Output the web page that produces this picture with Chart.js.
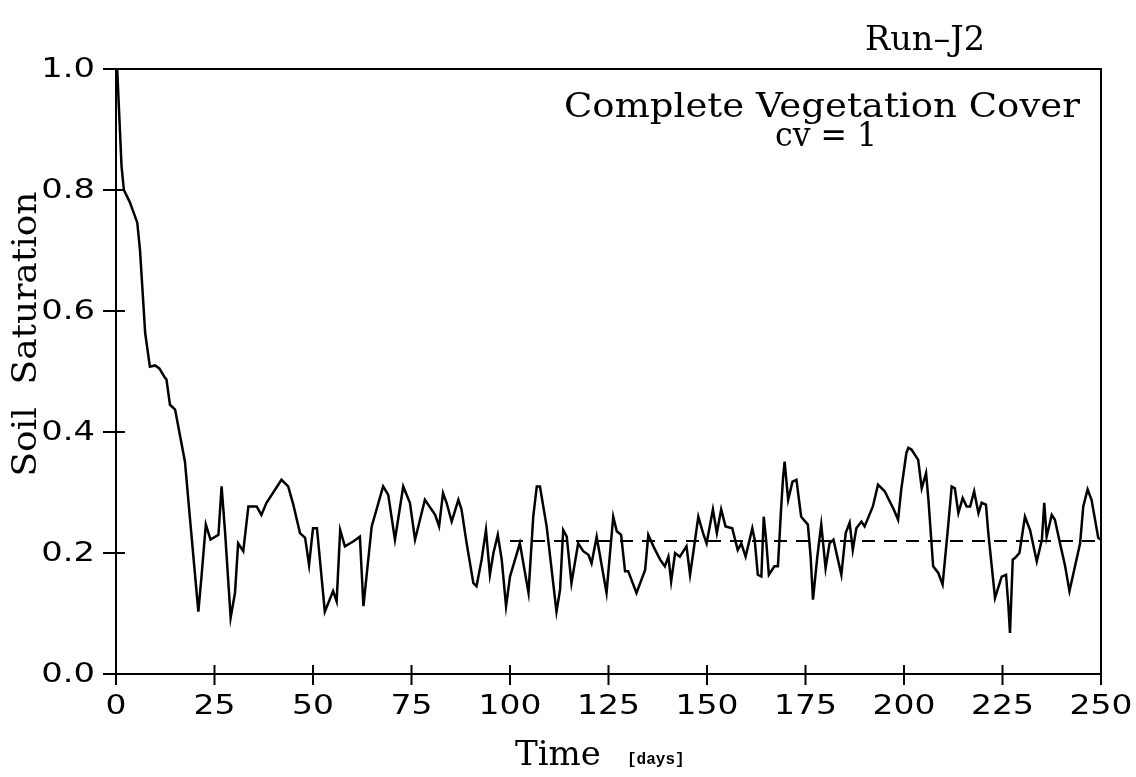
<!DOCTYPE html>
<html>
<head>
<meta charset="utf-8">
<script src="https://cdn.jsdelivr.net/npm/chart.js@4.4.0/dist/chart.umd.min.js"></script>
<style>
  html, body { margin: 0; padding: 0; background: #fff; }
  #wrap { width: 1136px; height: 777px; }
</style>
</head>
<body>
<div id="wrap"><canvas id="soilChart" width="1136" height="777"></canvas></div>
<script>
// Soil saturation time series (days, saturation)
const timeDays = [
  0, 0.3, 1.4, 2, 3.5, 5.4, 6.1, 7.4, 8.6, 9.9,
  11, 12.4, 12.8, 13.7, 15, 17.5, 18.8, 20.9, 21.7, 22.8,
  24, 26, 26.8, 27.7, 29.1, 30.2, 31, 32.3, 33.6, 35.7,
  36.9, 38.2, 42, 43.7, 45, 46.7, 48, 49, 50, 51,
  53, 55.1, 56, 56.9, 58.1, 60.2, 61.9, 62.8, 64.9, 67.8,
  69.1, 70.8, 72.9, 74.6, 75.9, 78.4, 81, 82, 83, 83.9,
  85.2, 86.9, 87.7, 89, 90.7, 91.5, 92.8, 93.9, 94.9, 95.8,
  96.9, 97.9, 99, 100, 102.5, 104.7, 105.9, 106.8, 107.6, 109.3,
  111.8, 112.7, 113.5, 114.4, 115.6, 117.3, 118.6, 119.9, 120.7, 122,
  124.5, 126.2, 127.1, 128.2, 129.2, 130, 132.1, 134.3, 135.1, 136.4,
  138.1, 139.3, 140.2, 140.9, 141.9, 143.1, 144.8, 145.7, 146.5, 147.8,
  149, 149.9, 151.5, 152.5, 153.6, 154.7, 156.4, 157.8, 158.7, 159.8,
  161.5, 162.1, 162.9, 163.8, 164.4, 165, 165.7, 167.1, 168, 168.8,
  169.3, 169.7, 170.6, 171.7, 172.7, 173.9, 175.6, 176.3, 176.9, 178,
  179, 180.1, 181.1, 182.1, 184.1, 185.2, 186.2, 187, 187.9, 189.2,
  190, 192.1, 193.4, 195.1, 197.4, 198.5, 199.3, 200.6, 201.1, 201.9,
  203.6, 204.5, 205.6, 206.2, 207.4, 208.7, 209.8, 211.2, 212.1, 212.9,
  213.8, 214.9, 215.9, 216.8, 217.8, 218.9, 219.7, 220.8, 221.4, 223.1,
  224.8, 225.9, 226.5, 226.9, 227.6, 228.2, 229.3, 230.7, 232, 233.7,
  235, 235.6, 236.2, 237.5, 238.3, 239.4, 240.9, 242, 243.4, 244.7,
  245.5, 246.6, 247.6, 249.3, 250
];
const soilSat = [
  1.0, 1.0, 0.84, 0.80, 0.78, 0.746, 0.70, 0.564, 0.508, 0.51,
  0.505, 0.49, 0.487, 0.445, 0.437, 0.351, 0.255, 0.103, 0.161, 0.247,
  0.222, 0.23, 0.31, 0.233, 0.093, 0.134, 0.216, 0.203, 0.277, 0.277,
  0.263, 0.283, 0.321, 0.31, 0.28, 0.233, 0.225, 0.18, 0.241, 0.241,
  0.103, 0.137, 0.12, 0.238, 0.211, 0.219, 0.227, 0.112, 0.244, 0.31,
  0.296, 0.222, 0.31, 0.283, 0.222, 0.288, 0.263, 0.244, 0.299, 0.283,
  0.252, 0.288, 0.272, 0.216, 0.15, 0.145, 0.189, 0.238, 0.164, 0.2,
  0.23, 0.189, 0.112, 0.161, 0.216, 0.134, 0.26, 0.31, 0.31, 0.244,
  0.103, 0.139, 0.238, 0.227, 0.15, 0.216, 0.203, 0.197, 0.183, 0.227,
  0.134, 0.26, 0.236, 0.23, 0.17, 0.17, 0.134, 0.172, 0.23, 0.211,
  0.189, 0.178, 0.194, 0.153, 0.2, 0.194, 0.211, 0.164, 0.2, 0.26,
  0.233, 0.216, 0.272, 0.233, 0.272, 0.244, 0.241, 0.205, 0.216, 0.194,
  0.241, 0.222, 0.164, 0.161, 0.26, 0.222, 0.164, 0.178, 0.178, 0.272,
  0.324, 0.351, 0.288, 0.318, 0.321, 0.26, 0.247, 0.194, 0.123, 0.194,
  0.247, 0.175, 0.216, 0.222, 0.164, 0.233, 0.25, 0.205, 0.241, 0.252,
  0.244, 0.277, 0.313, 0.302, 0.272, 0.255, 0.305, 0.365, 0.374, 0.371,
  0.354, 0.307, 0.332, 0.288, 0.178, 0.167, 0.148, 0.244, 0.31, 0.307,
  0.266, 0.291, 0.277, 0.277, 0.302, 0.266, 0.283, 0.28, 0.233, 0.126,
  0.161, 0.164, 0.112, 0.068, 0.189, 0.192, 0.2, 0.26, 0.238, 0.186,
  0.222, 0.283, 0.227, 0.263, 0.255, 0.222, 0.178, 0.137, 0.178, 0.216,
  0.277, 0.305, 0.288, 0.225, 0.222
];

// long-term mean (dashed), from day 100 to the end
const meanDays = [100, 250];
const meanSat = [0.22, 0.22];

// axis ticks
const xTicks = [0, 25, 50, 75, 100, 125, 150, 175, 200, 225, 250];
const yTicks = [0, 0.2, 0.4, 0.6, 0.8, 1.0];
const yTickLabels = ['0.0', '0.2', '0.4', '0.6', '0.8', '1.0'];

const runLabel = 'Run\u2013J2';
const noteLines = ['Complete Vegetation Cover', 'cv = 1'];

const SERIF = '"DejaVu Serif"';
const SANS = '"DejaVu Sans"';

// text with glyphs stretched sideways (wide plotter lettering)
function wideText(ctx, text, x, y, sx) {
    ctx.save();
    ctx.translate(x, y);
    ctx.scale(sx, 1);
    ctx.fillText(text, 0, 0);
    ctx.restore();
}

// same, stretched so that the text takes a given width
function fitText(ctx, text, x, y, width) {
    wideText(ctx, text, x, y, width / ctx.measureText(text).width);
}

// frame, crossing ticks, labels and annotations
const plotDecor = {
    id: 'plotDecor',
    afterDraw(chart) {
        const { ctx, chartArea: a } = chart;
        const xs = chart.scales.x, ys = chart.scales.y;
        ctx.save();
        ctx.strokeStyle = '#000';
        ctx.fillStyle = '#000';
        ctx.lineWidth = 2;

        // top and right sides of the box
        ctx.beginPath();
        ctx.moveTo(a.left, a.top);
        ctx.lineTo(a.right, a.top);
        ctx.lineTo(a.right, a.bottom);
        ctx.stroke();

        // tick marks cross the axes
        ctx.beginPath();
        yTicks.forEach(v => {
            const py = ys.getPixelForValue(v);
            ctx.moveTo(a.left - 13, py);
            ctx.lineTo(a.left + 9, py);
        });
        xTicks.forEach(v => {
            const px = xs.getPixelForValue(v);
            ctx.moveTo(px, a.bottom - 9);
            ctx.lineTo(px, a.bottom + 11);
        });
        ctx.stroke();

        // tick labels
        ctx.font = `27px ${SANS}`;
        ctx.textAlign = 'right';
        ctx.textBaseline = 'middle';
        yTicks.forEach((v, i) => wideText(ctx, yTickLabels[i], a.left - 21, ys.getPixelForValue(v) + 1, 1.25));
        ctx.textAlign = 'center';
        xTicks.forEach(v => wideText(ctx, String(v), xs.getPixelForValue(v), a.bottom + 33, 1.22));

        // title at top right
        ctx.textBaseline = 'alphabetic';
        ctx.font = `33px ${SERIF}`;
        fitText(ctx, runLabel, 925, 50, 120);

        // note inside the plot
        ctx.font = `33px ${SERIF}`;
        fitText(ctx, noteLines[0], 822, 117, 516);
        fitText(ctx, noteLines[1], 826, 146, 102);

        // x axis title
        ctx.textAlign = 'left';
        ctx.font = `34px ${SERIF}`;
        fitText(ctx, 'Time', 515, 765, 86);
        ctx.font = 'bold 16px "Liberation Mono"';
        ctx.fillText('[days]', 627, 764);

        // y axis title
        ctx.translate(27, 334);
        ctx.rotate(-Math.PI / 2);
        ctx.textAlign = 'center';
        ctx.textBaseline = 'middle';
        ctx.font = `33px ${SERIF}`;
        fitText(ctx, 'Soil  Saturation', 0, 0, 285);
        ctx.restore();
    }
};

new Chart(document.getElementById('soilChart'), {
    type: 'line',
    data: {
        datasets: [
            {
                data: timeDays.map((t, i) => ({ x: t, y: soilSat[i] })),
                borderColor: '#000',
                borderWidth: 2.5,
                pointRadius: 0,
                tension: 0
            },
            {
                data: meanDays.map((t, i) => ({ x: t, y: meanSat[i] })),
                borderColor: '#000',
                borderWidth: 2,
                borderDash: [13, 9],
                pointRadius: 0
            }
        ]
    },
    options: {
        responsive: false,
        animation: false,
        layout: { padding: { top: 69, right: 35, left: 0, bottom: 0 } },
        plugins: { legend: { display: false }, tooltip: { enabled: false } },
        scales: {
            x: {
                type: 'linear', min: 0, max: 250,
                grid: { display: false },
                border: { color: '#000', width: 2 },
                ticks: { display: false },
                afterFit: s => { s.height = 103; }
            },
            y: {
                min: 0, max: 1,
                grid: { display: false },
                border: { color: '#000', width: 2 },
                ticks: { display: false },
                afterFit: s => { s.width = 116; }
            }
        }
    },
    plugins: [plotDecor]
});
</script>
</body>
</html>
